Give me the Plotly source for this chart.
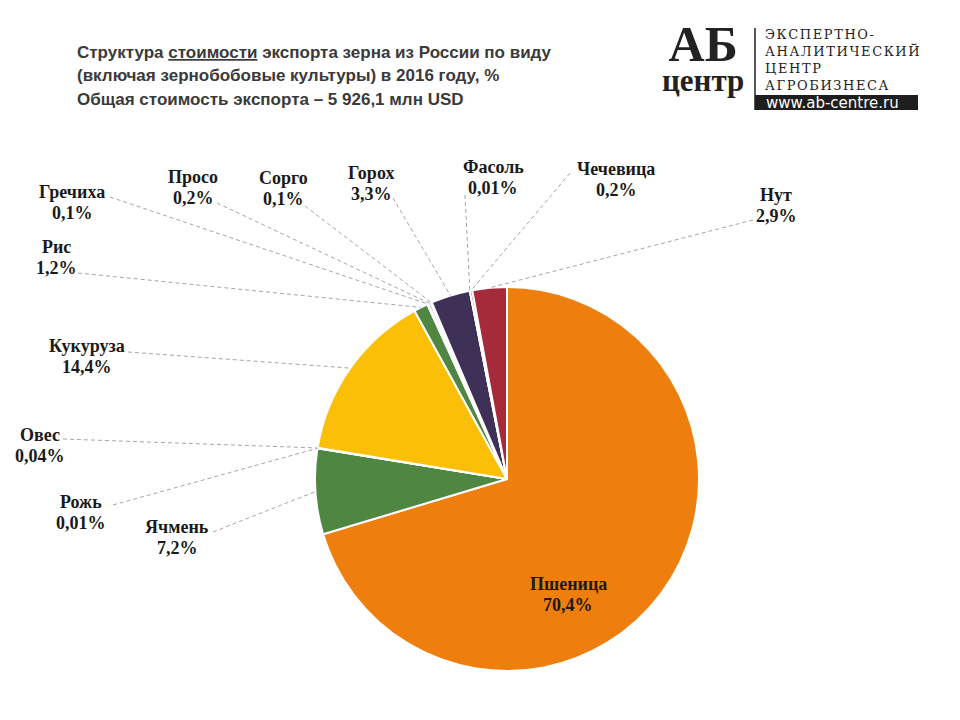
import math
import plotly.graph_objects as go

# ---- data ----
crops = ["Пшеница", "Ячмень", "Рожь", "Овес", "Кукуруза", "Рис", "Гречиха",
         "Просо", "Сорго", "Горох", "Фасоль", "Чечевица", "Нут"]
shares = [70.4, 7.2, 0.01, 0.04, 14.4, 1.2, 0.1, 0.2, 0.1, 3.3, 0.01, 0.2, 2.9]
colors = ["#EE7F0E", "#4F8642", "#4F8642", "#F7BC0A", "#FBBF07", "#4F8642", "#5A8A4A",
          "#7B6A9A", "#3F3057", "#3F3057", "#A52A3A", "#A52A3A", "#A52A3A"]

title_lines = [
    "Структура <span style='text-decoration:underline'>стоимости</span> экспорта зерна из России по виду",
    "(включая зернобобовые культуры) в 2016 году, %",
    "Общая стоимость экспорта – 5 926,1 млн USD",
]
logo_lines = ["ЭКСПЕРТНО-", "АНАЛИТИЧЕСКИЙ", "ЦЕНТР", "АГРОБИЗНЕСА"]

# ---- layout (pixel positions) ----
W, H = 960, 720
cx, cy, R = 507, 479, 192
label_pos = [(568, 584), (177, 527), (81, 502), (40, 435), (87, 346), (56, 247),
             (72, 192), (193, 177), (283, 178), (371, 173), (493, 167), (616, 169), (776, 195)]
leader_start = [None, (213, 532), (113, 505), (63, 439), (128, 352), (78, 273), (110, 197),
                (217, 203), (305, 206), (393, 198), (465, 195), (570, 173), (753, 220)]

fig = go.Figure()
fig.add_trace(go.Pie(
    labels=crops, values=shares, sort=False, direction="clockwise", rotation=0,
    marker=dict(colors=colors, line=dict(color="white", width=2)),
    textinfo="none", hoverinfo="label+percent", showlegend=False,
    domain=dict(x=[(cx - R) / W, (cx + R) / W], y=[(H - cy - R) / H, (H - cy + R) / H]),
))

total = sum(shares)
cum = 0.0
shapes = []
annotations = []
lab_font = dict(family="Liberation Serif", size=18, color="#1a1a1a")
for name, v, pos, start in zip(crops, shares, label_pos, leader_start):
    mid = (cum + v / 2) / total * 2 * math.pi
    cum += v
    if start is not None:
        ex = cx + R * math.sin(mid)
        ey = cy - R * math.cos(mid)
        shapes.append(dict(type="line", xref="x", yref="y", x0=start[0], y0=start[1], x1=ex, y1=ey,
                           line=dict(color="#A6A6A6", width=1, dash="4px,3px")))
    for k, txt in enumerate([name, str(v).replace('.', ',') + "%"]):
        annotations.append(dict(x=pos[0], y=pos[1] + k * 21, xref="x", yref="y", text=f"<b>{txt}</b>",
                                showarrow=False, xanchor="center", yanchor="middle", font=lab_font))

# title
for i, line in enumerate(title_lines):
    annotations.append(dict(x=75, y=52 + i * 23.5, xref="x", yref="y", text=f"<b>{line}</b>",
                            showarrow=False, xanchor="left", yanchor="middle", align="left",
                            font=dict(family="Liberation Sans", size=17, color="#3A3A3A")))

# logo
annotations.append(dict(x=703, y=14, xref="x", yref="y",
                        text="<b><span style='font-size:50px'>АБ</span><br>"
                             "<span style='font-size:31px'>центр</span></b>",
                        showarrow=False, xanchor="center", yanchor="top", align="center",
                        font=dict(family="Liberation Serif", size=23, color="#222222")))
annotations.append(dict(x=763, y=25, xref="x", yref="y",
                        text="<br>".join(f"<span style='letter-spacing:1.6px'>{t}</span>" for t in logo_lines),
                        showarrow=False, xanchor="left", yanchor="top", align="left",
                        font=dict(family="DejaVu Serif", size=13, color="#222222")))
shapes.append(dict(type="line", xref="x", yref="y", x0=755, y0=28, x1=755, y1=110,
                   line=dict(color="#222222", width=1.5)))
shapes.append(dict(type="rect", xref="x", yref="y", x0=755, y0=95, x1=918, y1=110,
                   fillcolor="#1E1E1E", line=dict(width=0)))
annotations.append(dict(x=764, y=102.5, xref="x", yref="y", text="www.ab-centre.ru", showarrow=False,
                        xanchor="left", yanchor="middle",
                        font=dict(family="DejaVu Sans", size=15, color="#FFFFFF")))

fig.update_layout(
    width=W, height=H, margin=dict(l=0, r=0, t=0, b=0),
    paper_bgcolor="white", plot_bgcolor="rgba(0,0,0,0)",
    xaxis=dict(range=[0, W], visible=False, fixedrange=True),
    yaxis=dict(range=[H, 0], visible=False, fixedrange=True),
    shapes=shapes, annotations=annotations,
)
fig.write_html("out.html")
